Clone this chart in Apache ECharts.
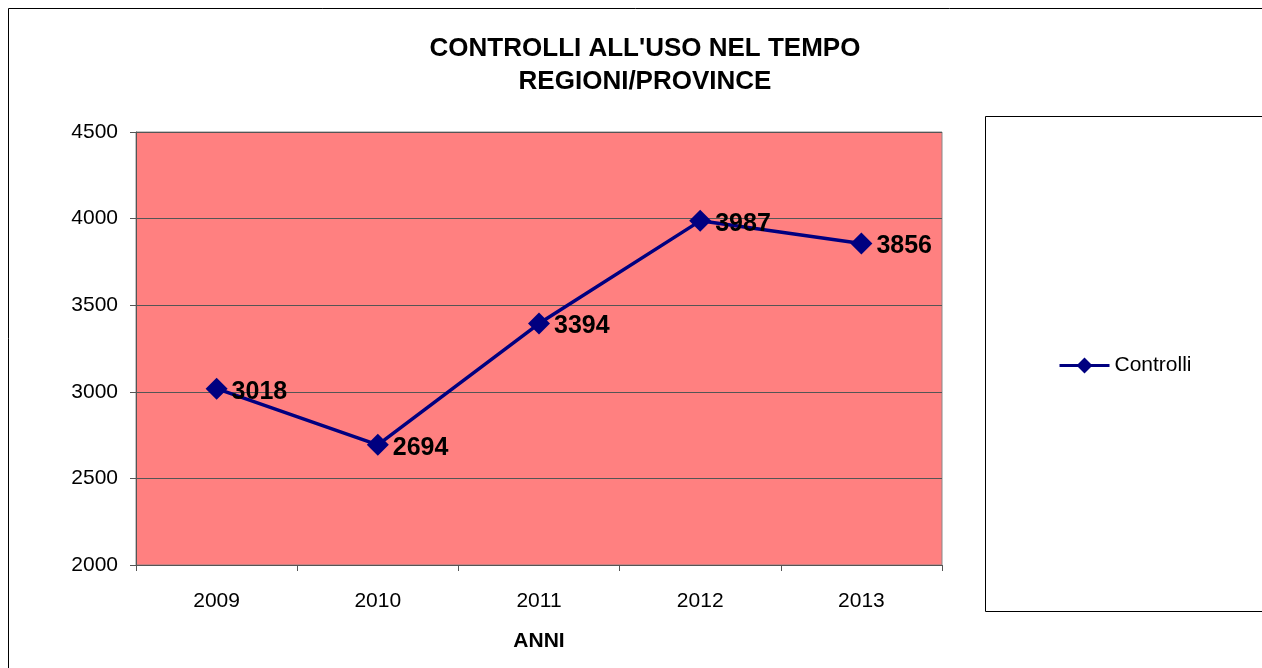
<!DOCTYPE html>
<html>
<head>
<meta charset="utf-8">
<script src="https://cdn.jsdelivr.net/npm/echarts@6/dist/echarts.min.js"></script>
<style>
  html, body { margin: 0; padding: 0; background: #fff; }
  #box { width: 1262px; height: 668px; }
</style>
</head>
<body>
<div id="box"></div>
<script>
// dati
const anni = ['2009', '2010', '2011', '2012', '2013'];
const controlli = [3018, 2694, 3394, 3987, 3856];
const yTicks = [2000, 2500, 3000, 3500, 4000, 4500];

const font = 'Liberation Sans, Arial, sans-serif';
const myChart = echarts.init(document.getElementById('box'));

const option = {
  animation: false,
  title: {
    text: "CONTROLLI ALL'USO NEL TEMPO\nREGIONI/PROVINCE",
    left: 640,
    top: 27,
    textAlign: 'center',
    textStyle: { fontFamily: font, fontSize: 26, fontWeight: 'bold', color: '#000', lineHeight: 33 }
  },
  graphic: [
    {
      type: 'rect',
      shape: { x: 8.5, y: 8.5, width: 1300, height: 700 },
      style: { fill: 'none', stroke: '#000', lineWidth: 1 },
      silent: true
    },
    {
      type: 'rect',
      shape: { x: 985.5, y: 116.5, width: 300, height: 495 },
      style: { fill: '#fff', stroke: '#000', lineWidth: 1 },
      silent: true,
      z: -1
    }
  ],
  legend: {
    data: ['Controlli'],
    left: 1058,
    top: 355,
    padding: 0,
    itemWidth: 50,
    itemHeight: 20,
    itemGap: 4,
    lineStyle: { width: 3 },
    textStyle: { fontFamily: font, fontSize: 21, color: '#000', padding: [0, 0, 0, 0] }
  },
  grid: {
    left: 136,
    top: 132,
    right: 320,
    bottom: 103,
    show: true,
    backgroundColor: '#FF8080',
    borderColor: '#888',
    borderWidth: 1
  },
  xAxis: {
    type: 'category',
    data: anni,
    boundaryGap: true,
    name: 'ANNI',
    nameLocation: 'middle',
    nameGap: 66,
    nameTextStyle: { fontFamily: font, fontSize: 21, fontWeight: 'bold', color: '#000' },
    axisLine: { lineStyle: { color: '#555', width: 1 } },
    axisTick: { show: true, length: 6, alignWithLabel: false, lineStyle: { color: '#555' } },
    axisLabel: { fontFamily: font, fontSize: 21, color: '#000', margin: 26 },
    splitLine: { show: false }
  },
  yAxis: {
    type: 'value',
    min: yTicks[0],
    max: yTicks[yTicks.length - 1],
    interval: 500,
    axisLine: { show: true, lineStyle: { color: '#555', width: 1 } },
    axisTick: { show: true, length: 6, lineStyle: { color: '#555' } },
    axisLabel: { fontFamily: font, fontSize: 21, color: '#000', margin: 18, formatter: v => String(v) },
    splitLine: { show: true, lineStyle: { color: '#555', width: 1 } }
  },
  series: [
    {
      name: 'Controlli',
      type: 'line',
      data: controlli,
      symbol: 'diamond',
      symbolSize: 22,
      itemStyle: { color: '#000080' },
      lineStyle: { color: '#000080', width: 3.5 },
      label: {
        show: true,
        position: 'right',
        distance: 4,
        offset: [0, 3],
        fontFamily: font,
        fontSize: 25,
        fontWeight: 'bold',
        color: '#000'
      }
    }
  ]
};

myChart.setOption(option);
window.onresize = function () {
  myChart.resize();
};
</script>
</body>
</html>
